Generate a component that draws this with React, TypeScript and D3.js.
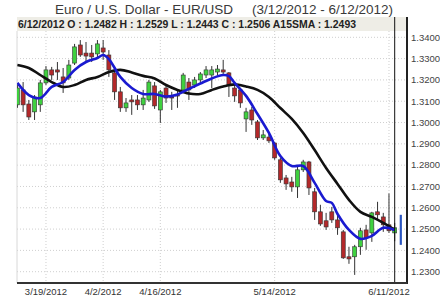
import React from "react";
import * as d3 from "d3";

// ---- data ----
const startDate = new Date(2012, 2, 12);
const endDate = new Date(2012, 5, 13);
const dates = d3.timeDays(startDate, endDate).filter((d) => d.getDay() !== 0 && d.getDay() !== 6);

const opens = [1.3083,1.3153,1.3087,1.3050,1.3083,1.3186,1.3247,1.3247,1.3214,1.3209,1.3279,1.3364,1.3326,1.3326,1.3322,1.3350,1.3317,1.3233,1.3144,1.3069,1.3106,1.3106,1.3083,1.3106,1.3172,1.3059,1.3162,1.3120,1.3129,1.3153,1.3190,1.3176,1.3200,1.3223,1.3223,1.3237,1.3247,1.3233,1.3162,1.3153,1.3017,1.3059,1.3003,1.2928,1.2932,1.2904,1.2825,1.2740,1.2721,1.2698,1.2778,1.2815,1.2675,1.2581,1.2539,1.2581,1.2543,1.2487,1.2370,1.2370,1.2417,1.2496,1.2482,1.2581,1.2557,1.2520,1.2482];
const highs = [1.3176,1.3190,1.3106,1.3129,1.3200,1.3265,1.3261,1.3284,1.3256,1.3294,1.3369,1.3387,1.3378,1.3364,1.3387,1.3387,1.3340,1.3261,1.3167,1.3115,1.3129,1.3129,1.3153,1.3200,1.3190,1.3153,1.3176,1.3144,1.3153,1.3233,1.3209,1.3214,1.3237,1.3265,1.3265,1.3270,1.3294,1.3237,1.3176,1.3162,1.3069,1.3073,1.3012,1.2965,1.2956,1.2909,1.2834,1.2754,1.2745,1.2801,1.2825,1.2820,1.2693,1.2614,1.2576,1.2604,1.2576,1.2496,1.2417,1.2426,1.2506,1.2520,1.2581,1.2628,1.2576,1.2667,1.2529];
const lows = [1.3069,1.3050,1.3012,1.3012,1.3050,1.3176,1.3200,1.3200,1.3139,1.3200,1.3270,1.3308,1.3284,1.3284,1.3303,1.3294,1.3214,1.3106,1.3050,1.3050,1.3036,1.3059,1.3059,1.3097,1.3064,1.2998,1.3092,1.3059,1.3069,1.3144,1.3106,1.3162,1.3190,1.3209,1.3162,1.3223,1.3223,1.3120,1.3097,1.3069,1.2956,1.2989,1.2918,1.2918,1.2904,1.2825,1.2717,1.2684,1.2675,1.2646,1.2768,1.2660,1.2543,1.2515,1.2496,1.2529,1.2473,1.2360,1.2337,1.2285,1.2379,1.2403,1.2440,1.2543,1.2487,1.2482,1.2443];
const closes = [1.3162,1.3083,1.3026,1.3120,1.3186,1.3247,1.3223,1.3237,1.3186,1.3270,1.3355,1.3317,1.3312,1.3308,1.3369,1.3331,1.3247,1.3144,1.3069,1.3092,1.3097,1.3083,1.3115,1.3190,1.3078,1.3144,1.3115,1.3115,1.3125,1.3223,1.3153,1.3200,1.3228,1.3247,1.3247,1.3251,1.3237,1.3176,1.3125,1.3092,1.3050,1.3012,1.2928,1.2942,1.2914,1.2834,1.2731,1.2712,1.2698,1.2778,1.2815,1.2693,1.2581,1.2524,1.2510,1.2543,1.2506,1.2365,1.2360,1.2417,1.2492,1.2459,1.2576,1.2567,1.2520,1.2492,1.2506];

const smaSlowIdx = [0,2,4,6,8,10,12,14,16,18,20,22,24,26,28,30,32,34,36,38,40,42,44,46,48,50,52,54,56,58,60,62,64,66];
const smaSlowVals = [1.3270,1.3256,1.3223,1.3190,1.3167,1.3176,1.3200,1.3214,1.3237,1.3247,1.3235,1.3219,1.3207,1.3176,1.3153,1.3136,1.3134,1.3153,1.3169,1.3179,1.3169,1.3153,1.3120,1.3068,1.3017,1.2951,1.2871,1.2787,1.2712,1.2637,1.2581,1.2557,1.2529,1.2496];

const smaFastIdx = [0,2,4,6,8,10,12,14,15,16,18,20,22,24,26,28,30,32,34,36,37,38,40,42,44,46,48,50,52,54,55,56,58,60,62,64,66];
const smaFastVals = [1.3186,1.3129,1.3115,1.3167,1.3190,1.3247,1.3284,1.3303,1.3317,1.3298,1.3214,1.3162,1.3134,1.3134,1.3122,1.3132,1.3158,1.3183,1.3207,1.3223,1.3218,1.3186,1.3125,1.3040,1.2951,1.2843,1.2796,1.2796,1.2717,1.2632,1.2623,1.2571,1.2496,1.2454,1.2468,1.2506,1.2496];

const rangeMarker = [1.2426, 1.2567];
const yTicks = [1.23,1.24,1.25,1.26,1.27,1.28,1.29,1.30,1.31,1.32,1.33,1.34];
const xLabelIdx = [5, 15, 25, 45, 65];

const titleMain = "Euro / U.S. Dollar -  EUR/USD";
const titleRange = "(3/12/2012 - 6/12/2012)";
const headerText = "6/12/2012 O : 1.2482 H : 1.2529 L : 1.2443 C : 1.2506 A15SMA : 1.2493";

export default function App() {
  const W = 440, H = 296;
  const left = 17, right = 407, top = 31, bottom = 283;
  const x = d3.scaleLinear().domain([0, 66]).range([17.4, 394.7]);
  const y = d3.scaleLinear().domain([1.23, 1.34]).range([271.7, 37.3]);
  const fmt = d3.timeFormat("%-m/%-d/%Y");
  const fast = d3.line<number>().x((d, i) => x(smaFastIdx[i])).y((d) => y(d)).curve(d3.curveCatmullRom);
  const slow = d3.line<number>().x((d, i) => x(smaSlowIdx[i])).y((d) => y(d)).curve(d3.curveCatmullRom);
  const bw = 4;

  return (
    <svg width={W} height={H} style={{ position: "absolute", left: 0, top: 0, background: "#fff" }} fontFamily="'Liberation Sans', Arial, sans-serif">
      <defs>
        <clipPath id="plot"><rect x={left} y={top} width={right - left} height={bottom - top} /></clipPath>
      </defs>
      <rect width={W} height={H} fill="#fff" />
      <text x={55} y={14} fontSize={13.5} fill="#3a3a3a" textLength={178} lengthAdjust="spacingAndGlyphs">{titleMain}</text>
      <text x={252} y={14} fontSize={13.5} fill="#3a3a3a" textLength={141} lengthAdjust="spacingAndGlyphs">{titleRange}</text>
      <rect x={left} y={17} width={right - left} height={14} fill="#eeede6" />
      <text x={18} y={28} fontSize={10.5} fontWeight="bold" fill="#222" textLength={338} lengthAdjust="spacingAndGlyphs">{headerText}</text>
      {/* grid */}
      {yTicks.map((t) => (
        <line key={"gy" + t} x1={left} x2={right} y1={y(t)} y2={y(t)} stroke="#cfcfcf" strokeDasharray="1,2" />
      ))}
      {xLabelIdx.map((i) => (
        <line key={"gx" + i} x1={x(i)} x2={x(i)} y1={top} y2={bottom} stroke="#cfcfcf" strokeDasharray="1,2" />
      ))}
      <line x1={left} x2={left} y1={top} y2={bottom} stroke="#d8d8d8" />
      <g clipPath="url(#plot)">
        {dates.map((d, i) => {
          const up = closes[i] >= opens[i];
          const cx = x(i);
          const yTop = y(Math.max(opens[i], closes[i]));
          const yBot = y(Math.min(opens[i], closes[i]));
          return (
            <g key={i}>
              <line x1={cx} x2={cx} y1={y(highs[i])} y2={y(lows[i])} stroke="#333" strokeWidth={1} />
              <rect x={cx - bw / 2} y={yTop} width={bw} height={Math.max(1, yBot - yTop)} fill={up ? "#3fd13f" : "#b3282a"} stroke="#333" strokeWidth={0.6} />
            </g>
          );
        })}
        <path d={slow(smaSlowVals) || ""} fill="none" stroke="#111" strokeWidth={2.6} />
        <path d={fast(smaFastVals) || ""} fill="none" stroke="#1a1ad0" strokeWidth={2.6} />
      </g>
      <line x1={x(66)} x2={x(66)} y1={17} y2={bottom} stroke="#111" strokeWidth={1} />
      <line x1={400.8} x2={400.8} y1={y(rangeMarker[1])} y2={y(rangeMarker[0])} stroke="#2a55c0" strokeWidth={2.2} />
      {/* axes */}
      <line x1={right} x2={right} y1={17} y2={bottom + 1} stroke="#222" strokeWidth={2} />
      <line x1={left} x2={right} y1={bottom} y2={bottom} stroke="#333" strokeWidth={2} />
      {yTicks.map((t) => (
        <text key={"ty" + t} x={411} y={y(t)} dy="0.35em" fontSize={9.5} fill="#444">{t.toFixed(4)}</text>
      ))}
      {xLabelIdx.map((i) => (
        <text key={"tx" + i} x={x(i)} y={295} textAnchor="middle" fontSize={9.5} fill="#333">{fmt(dates[i])}</text>
      ))}
    </svg>
  );
}
